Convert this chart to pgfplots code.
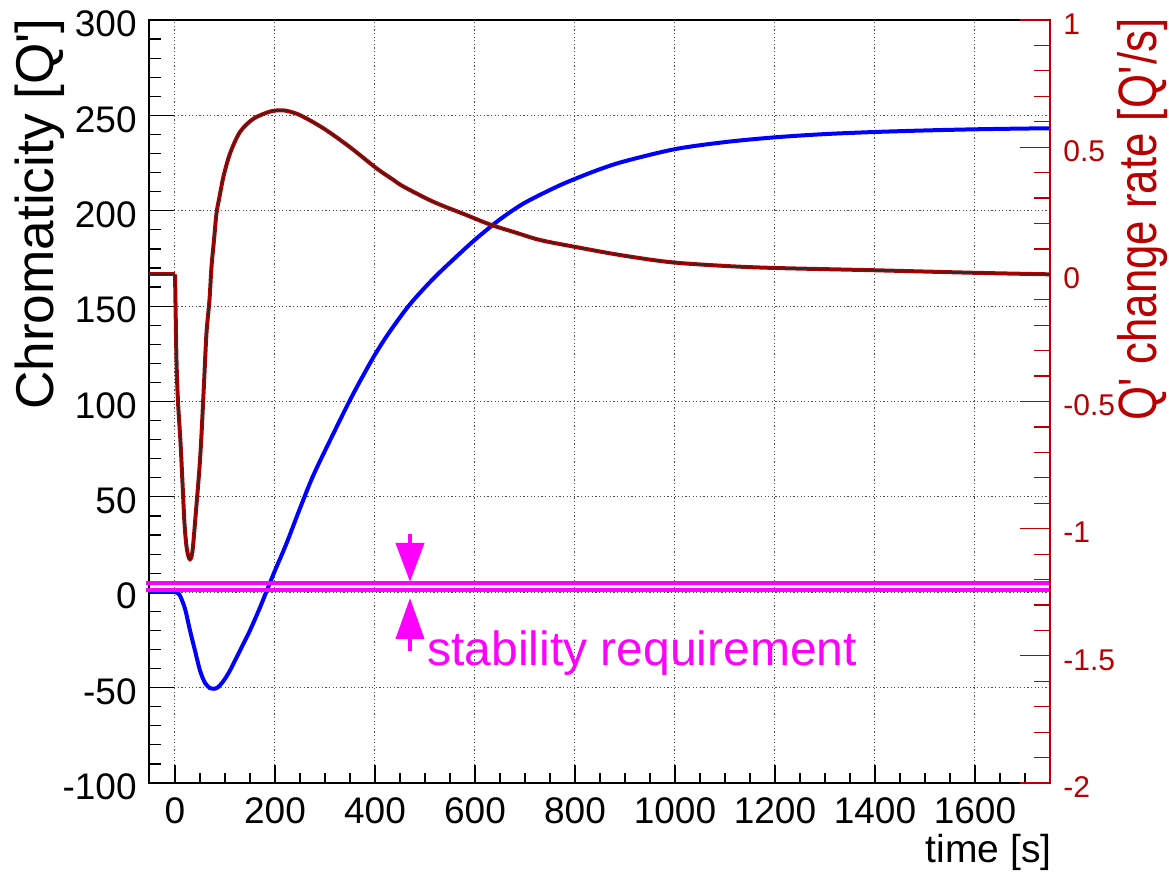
\documentclass[border=0pt]{standalone}
\usepackage{fontspec}
\setmainfont{Liberation Sans}
\newfontfamily\narrowfont[FakeStretch=0.81]{Liberation Sans}
\usepackage{pgfplots}
\usepackage{pgfplotstable}
\pgfplotsset{compat=1.18}
\usetikzlibrary{arrows.meta}
\definecolor{rootred}{RGB}{185,0,0}
\definecolor{curvered}{RGB}{175,0,0}
\definecolor{rootmag}{RGB}{255,0,255}

% chromaticity before the ramp
\pgfplotstableread{
x y
-52 0
0 0
}\chromflat

% chromaticity [Q'] during and after the ramp
\pgfplotstableread{
x y
0 0
5 -0.4
10 -1.8
20 -8.6
30 -20
40 -30.6
50 -41
60 -47.5
70 -50.3
77 -50.6
85 -50
97 -46.5
110 -41
130 -30.6
150 -20
170 -8
183 0.5
200 11.4
223 25.6
250 44
277 61.5
317 83.3
347 99.2
370 110.6
400 124.6
430 136.8
470 151
517 164.5
563 176
603 185.5
650 195.5
697 203.8
757 211.8
797 216.4
850 221.8
900 226
1000 232.3
1100 236
1200 238.5
1300 240.2
1400 241.3
1500 242.1
1600 242.7
1700 243.1
1750 243.2
}\chromtable

% change rate before the ramp
\pgfplotstableread{
x y
-52 0
0 0
}\rateflat

% change rate [Q'/s] during and after the ramp
\pgfplotstableread{
x y
0 0
0.5 -0.05
3 -0.34
6 -0.50
11 -0.66
15 -0.82
19 -0.98
23 -1.07
27 -1.11
30 -1.12
33 -1.11
36 -1.07
42 -0.93
49 -0.76
53 -0.63
58 -0.43
63 -0.23
69 -0.10
73 0.03
78 0.135
83 0.24
89 0.305
97 0.385
110 0.475
130 0.56
157 0.612
190 0.64
210 0.645
223 0.643
250 0.626
297 0.574
350 0.50
403 0.417
437 0.371
457 0.345
517 0.285
583 0.233
630 0.196
680 0.165
730 0.135
800 0.108
890 0.076
990 0.048
1100 0.033
1200 0.025
1400 0.016
1600 0.006
1750 0.0
}\ratetable

\pgfplotsset{
  common/.style={
    scale only axis, width=450.5pt, height=381.5pt,
    xmin=-52, xmax=1750,
    at={(0pt,0pt)}, anchor=south west,
    scaled ticks=false,
    /pgf/number format/assume math mode=true,
    /pgf/number format/1000 sep={},
  },
}

\begin{document}
\begin{tikzpicture}
\useasboundingbox (-74.5pt,-46pt) rectangle (510pt,391.5pt);

% left axis: chromaticity
\begin{axis}[
  common,
  ymin=-100, ymax=300,
  xtick={0,200,...,1600},
  minor xtick={50,100,150,250,300,350,450,500,550,650,700,750,850,900,950,1050,1100,1150,1250,1300,1350,1450,1500,1550,1650,1700},
  ytick={-100,-50,...,300}, minor y tick num=4,
  xtick pos=bottom, ytick pos=left,
  tick align=inside,
  grid=major,
  major grid style={black!70, line width=0.5pt, dash pattern=on 0.6pt off 1.2pt},
  axis line style={black, line width=0.8pt},
  xtick style={black, line width=0.6pt, /pgfplots/major tick length=9pt, /pgfplots/minor tick length=5pt},
  ytick style={black, line width=0.6pt, /pgfplots/major tick length=12.5pt, /pgfplots/minor tick length=6pt},
  tick label style={font=\fontsize{18.5}{20}\selectfont},
  xticklabel style={anchor=base, inner sep=0pt, yshift=-20pt},
  yticklabel style={anchor=east, inner sep=0pt, xshift=-6pt, yshift=-2pt},
  xlabel={time [s]},
  ylabel={Chromaticity [Q\textquotesingle]},
  every axis x label/.style={at={(axis description cs:1.0022,-0.1048)}, anchor=base east, inner sep=0pt, font=\fontsize{19.5}{22}\selectfont},
  every axis y label/.style={at={(axis description cs:-0.1065,1.0026)}, rotate=90, anchor=base east, inner sep=0pt, font=\fontsize{26.6}{30}\selectfont},
]
\addplot[blue, line width=2pt] table[x=x, y=y] {\chromflat};
\addplot[blue, line width=2pt, smooth, tension=0.5] table[x=x, y=y] {\chromtable};
\end{axis}

% right axis: Q' change rate
\begin{axis}[
  common,
  ymin=-2, ymax=1,
  hide x axis,
  axis y line*=right,
  ytick={-2,-1.5,...,1}, minor y tick num=4,
  tick align=inside,
  y axis line style={-, rootred, line width=0.8pt},
  ytick style={rootred, line width=0.6pt, /pgfplots/major tick length=15pt, /pgfplots/minor tick length=8pt},
  yticklabel style={anchor=west, inner sep=0pt, xshift=6.5pt, yshift=-2pt, text=rootred, font=\fontsize{15}{17}\selectfont},
  ylabel={Q\textquotesingle\ change rate [Q\textquotesingle/s]},
  every axis y label/.style={at={(axis description cs:1.1185,1.0026)}, rotate=90, anchor=base east, inner sep=0pt, text=rootred, font=\narrowfont\fontsize{27}{31}\selectfont},
]
\addplot[curvered, line width=2pt] table[x=x, y=y] {\rateflat};
\addplot[black!85, line width=0.5pt] table[x=x, y=y] {\rateflat};
\addplot[curvered, line width=2pt, smooth, tension=0.5] table[x=x, y=y] {\ratetable};
\addplot[black!85, line width=0.5pt, smooth, tension=0.5] table[x=x, y=y] {\ratetable};
\end{axis}

% stability requirement annotation
\begin{axis}[
  common,
  ymin=-100, ymax=300,
  hide axis, clip=false,
]
\addplot[rootmag, line width=2pt] coordinates {(-58,4.7) (1748,4.7)};
\addplot[rootmag, line width=2pt] coordinates {(-58,1.2) (1748,1.2)};
\draw[rootmag, line width=2pt, -{Triangle[width=14pt, length=19.5pt]}] (axis cs:470,30.3) -- (axis cs:470,5.4);
\draw[rootmag, line width=2pt, -{Triangle[width=14pt, length=20.5pt]}] (axis cs:470,-30.6) -- (axis cs:470,-3.0);
\node[anchor=base west, inner sep=0pt, text=rootmag, font=\fontsize{24}{28}\selectfont] at (axis cs:504,-38.5) {stability requirement};
\end{axis}
\end{tikzpicture}
\end{document}
